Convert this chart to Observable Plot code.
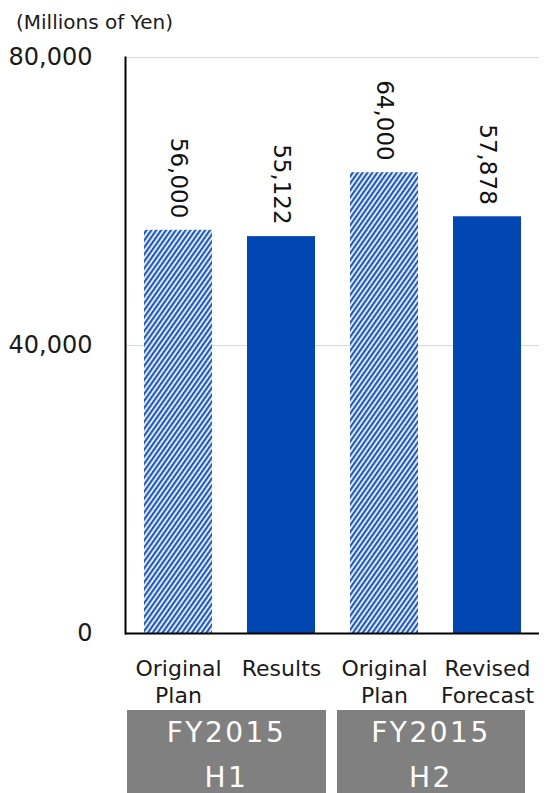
<!DOCTYPE html>
<html>
<head>
<meta charset="utf-8">
<script src="https://cdn.jsdelivr.net/npm/d3@7"></script>
<script src="https://cdn.jsdelivr.net/npm/@observablehq/plot@0.6"></script>
<style>
  html, body { margin: 0; padding: 0; background: #fff; }
  body { width: 546px; height: 793px; overflow: hidden; position: relative; font-family: "DejaVu Sans", Verdana, sans-serif; }
  #unit { height: 40px; font-size: 20px; line-height: 44px; padding-left: 16px; color: #1a1a1a; }
  #chart { position: absolute; top: 40px; left: 0; }
  #groups { position: absolute; top: 710px; left: 0; width: 546px; height: 90px; }
  .grp { position: absolute; top: 0; height: 90px; background: #808080; color: #fff;
         font-family: "DejaVu Sans", sans-serif; font-size: 28px; letter-spacing: 2.5px;
         text-align: center; line-height: 45px; white-space: pre; }
</style>
</head>
<body>
<div id="unit">(Millions of Yen)</div>
<div id="chart"></div>
<div id="groups"></div>
<script>
// ---- data ----
const keys = ["h1plan", "h1result", "h2plan", "h2forecast"];
const labels = ["Original\nPlan", "Results", "Original\nPlan", "Revised\nForecast"];
const values = [56000, 55122, 64000, 57878];
const kinds = ["plan", "actual", "plan", "actual"];
const yTicks = [0, 40000, 80000];
const groups = ["FY2015\nH1", "FY2015\nH2"];

const data = keys.map((k, i) => ({key: k, label: labels[i], value: values[i], kind: kinds[i]}));
const labelOf = Object.fromEntries(keys.map((k, i) => [k, labels[i]]));

const chart = Plot.plot({
  width: 546,
  height: 670,
  marginTop: 17,
  marginBottom: 77,
  marginLeft: 125,
  marginRight: 7,
  style: {fontFamily: "DejaVu Sans, Verdana, sans-serif", color: "#1a1a1a", background: "transparent"},
  x: {domain: keys, paddingInner: 0.343, paddingOuter: 0.174, label: null},
  y: {domain: [0, 80000], label: null},
  marks: [
    Plot.gridY([40000, 80000], {stroke: "#d9d9d9", strokeOpacity: 1, strokeWidth: 1}),
    Plot.barY(data.filter(d => d.kind === "plan"), {x: "key", y: "value", fill: "url(#hatch)"}),
    Plot.barY(data.filter(d => d.kind === "actual"), {x: "key", y: "value", fill: "#0047b4"}),
    Plot.text(data, {x: "key", y: "value", text: d => d3.format(",")(d.value), rotate: 90,
      textAnchor: "end", lineAnchor: "middle", dy: -12, fontSize: 23, fill: "#111"}),
    Plot.axisY({ticks: yTicks, tickFormat: d3.format(","), tickSize: 0, tickPadding: 33, fontSize: 24, label: null}),
    Plot.axisX({tickSize: 0, tickPadding: 24, fontSize: 22, lineHeight: 1.2, tickFormat: k => labelOf[k], label: null}),
    Plot.frame({anchor: "left", stroke: "#000", strokeWidth: 2}),
    Plot.ruleY([0], {stroke: "#000", strokeWidth: 2})
  ]
});

// hatch pattern definition
const svg = d3.select(chart);
const defs = svg.insert("defs", ":first-child");
const pat = defs.append("pattern")
  .attr("id", "hatch")
  .attr("patternUnits", "userSpaceOnUse")
  .attr("width", 4).attr("height", 4)
  .attr("patternTransform", "rotate(35)");
pat.append("rect").attr("width", 4).attr("height", 4).attr("fill", "#ffffff");
pat.append("rect").attr("width", 2.3).attr("height", 4).attr("fill", "#1f5ac6");

document.getElementById("chart").appendChild(chart);

// group boxes below the chart
const gpos = [{left: 127, width: 199}, {left: 337, width: 188}];
const gdiv = document.getElementById("groups");
groups.forEach((g, i) => {
  const d = document.createElement("div");
  d.className = "grp";
  d.style.left = gpos[i].left + "px";
  d.style.width = gpos[i].width + "px";
  d.textContent = g;
  gdiv.appendChild(d);
});
</script>
</body>
</html>
